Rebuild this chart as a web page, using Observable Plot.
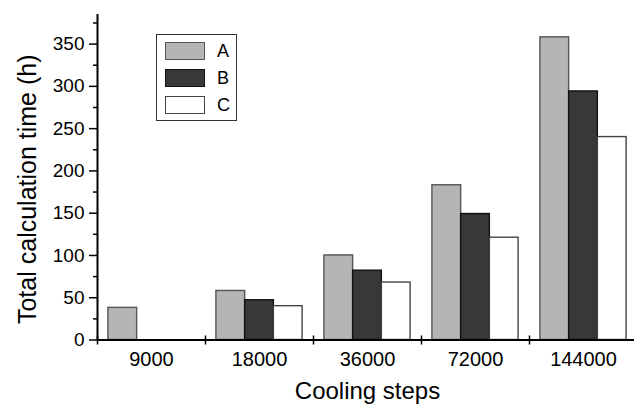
<!DOCTYPE html>
<html><head><meta charset="utf-8">
<script src="https://cdn.jsdelivr.net/npm/d3@7"></script>
<script src="https://cdn.jsdelivr.net/npm/@observablehq/plot@0.6"></script>
<style>
html,body{margin:0;padding:0;background:#fff;overflow:hidden;width:634px;height:404px;color:#000}
#wrap{position:relative;width:634px;height:404px;overflow:hidden}
#wrap svg{max-width:none;display:block}
.legend{position:absolute;left:156px;top:34px;width:81px;height:87px;border:1.5px solid #333;box-sizing:border-box;background:#fff;font-family:"Liberation Sans",Arial,sans-serif;font-size:18px}
.legend .row{position:absolute;left:8px;height:18px;display:flex;align-items:center}
.legend .sw{width:40px;height:18px;box-sizing:border-box;border:1.5px solid #333}
.legend .lb{margin-left:12px;line-height:18px}
</style>
</head><body>
<div id="wrap"></div>
<script>
const steps = ["9000", "18000", "36000", "72000", "144000"];
const seriesNames = ["A", "B", "C"];
const seriesA = [38, 58, 100, 183, 358];
const seriesB = [null, 47, 82, 149, 294];
const seriesC = [null, 40, 68, 121, 240];
const yMajorTicks = [0, 50, 100, 150, 200, 250, 300, 350];
const yMinorTicks = [25, 75, 125, 175, 225, 275, 325, 375];
const groupBounds = [-0.5, 0.5, 1.5, 2.5, 3.5, 4.5];
const fills = ["#b5b5b5", "#383838", "#ffffff"];
const strokes = ["#555555", "#111111", "#444444"];
const yTitle = "Total calculation time (h)";
const xTitle = "Cooling steps";

const allSeries = [seriesA, seriesB, seriesC];
const barW = 0.266;
const font = '"Liberation Sans", Arial, sans-serif';

const barMarks = allSeries.map((vals, j) => {
  const rows = [];
  vals.forEach((v, i) => { if (v != null) rows.push({step: steps[i], i, series: seriesNames[j], value: v}); });
  return Plot.rectY(rows, {
    x1: d => d.i + (j - 1.5) * barW,
    x2: d => d.i + (j - 0.5) * barW,
    y1: 0, y2: "value",
    fill: fills[j], stroke: strokes[j], strokeWidth: 1.4
  });
});

const plot = Plot.plot({
  width: 640, height: 404,
  marginLeft: 97, marginRight: 3, marginTop: 14, marginBottom: 64.5,
  style: {fontFamily: font, background: "transparent", color: "#000"},
  x: {domain: [-0.5, 4.5], axis: null},
  y: {domain: [0, 385], axis: null},
  marks: [
    ...barMarks,
    Plot.axisY(yMinorTicks, {tickSize: 4, tickFormat: () => "", label: null, strokeWidth: 1.5, color: "#000"}),
    Plot.axisY(yMajorTicks, {tickSize: 8, tickPadding: 5, fontSize: 19, label: null, strokeWidth: 1.5, color: "#000"}),
    Plot.axisX(groupBounds, {tickSize: 5, tickFormat: () => "", label: null, strokeWidth: 1.5, color: "#000"}),
    Plot.axisX(groupBounds, {tickSize: -4, tickFormat: () => "", label: null, strokeWidth: 1.5, color: "#000"}),
    Plot.ruleY([0], {stroke: "#000", strokeWidth: 2}),
    Plot.ruleX([-0.5], {y1: 0, y2: 385, stroke: "#000", strokeWidth: 2}),
    Plot.text(steps, {x: (d, i) => i, frameAnchor: "bottom", dy: 20, fontSize: 20, fill: "#000", lineAnchor: "middle"}),
    Plot.text([xTitle], {frameAnchor: "bottom", dy: 51, fontSize: 24, fill: "#000", lineAnchor: "middle", textAnchor: "middle"}),
    Plot.text([yTitle], {frameAnchor: "left", rotate: -90, dx: -70, dy: 12, fontSize: 25, fill: "#000", lineAnchor: "middle", textAnchor: "middle"})
  ]
});
const wrap = document.getElementById("wrap");
wrap.appendChild(plot);

const legend = document.createElement("div");
legend.className = "legend";
seriesNames.forEach((name, j) => {
  const row = document.createElement("div");
  row.className = "row";
  row.style.top = (7 + j * 27) + "px";
  const sw = document.createElement("div");
  sw.className = "sw";
  sw.style.background = fills[j];
  sw.style.borderColor = strokes[j];
  const lb = document.createElement("span");
  lb.className = "lb";
  lb.textContent = name;
  row.appendChild(sw); row.appendChild(lb);
  legend.appendChild(row);
});
wrap.appendChild(legend);
</script>
</body></html>
